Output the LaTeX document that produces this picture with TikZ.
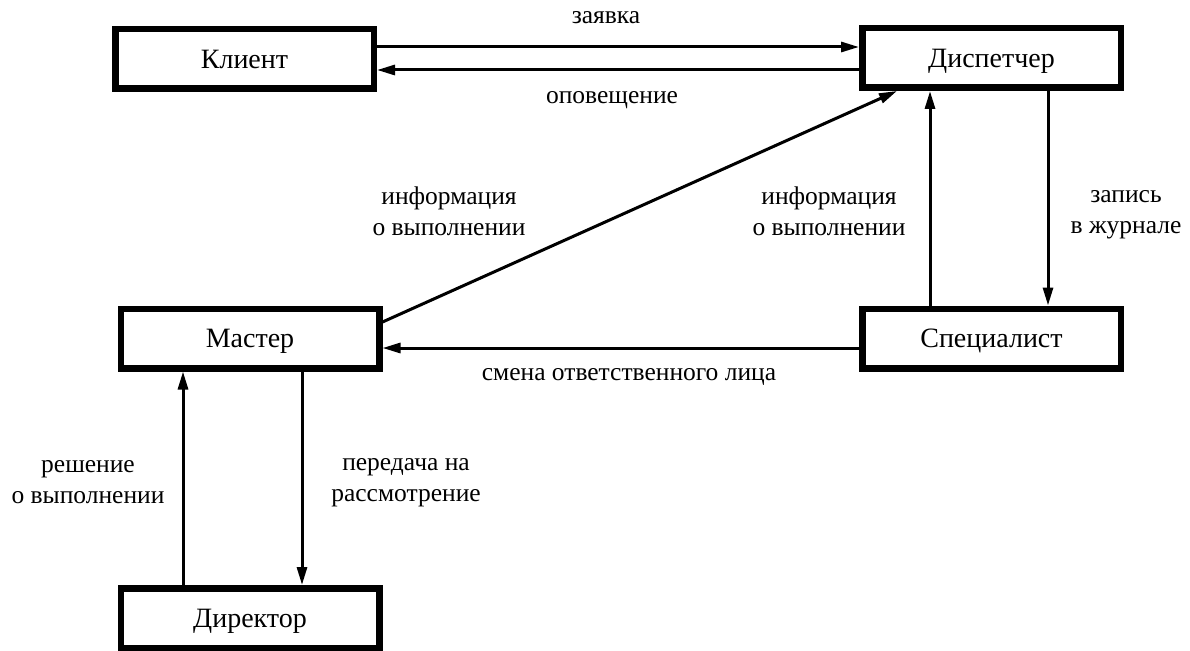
\documentclass[tikz,border=0pt]{standalone}
\usepackage{fontspec}
\setmainfont{Liberation Serif}
\usetikzlibrary{arrows.meta}
\begin{document}
\begin{tikzpicture}[x=1pt,y=-1pt,
  box/.style={draw, line width=6.5pt, minimum width=258.5pt, minimum height=59.5pt, inner sep=0pt, text height=18.5pt, text depth=0pt, font=\fontsize{28}{32}\selectfont},
  conn/.style={line width=3pt, -{Triangle[length=18pt,width=10pt]}},
  lbl/.style={font=\fontsize{25.5}{31}\selectfont, align=center, inner sep=0pt}]
\useasboundingbox (0,0) rectangle (1190,650);
\node[box] (K) at (244.5,59) {Клиент};
\node[box] (D) at (991.5,58) {Диспетчер};
\node[box] (M) at (250,338.5) {Мастер};
\node[box] (S) at (991.5,338.5) {Специалист};
\node[box] (R) at (250,618) {Директор};

\draw[conn] (K.east |- 0,47) -- (D.west |- 0,47);
\draw[conn] (D.west |- 0,70) -- (K.east |- 0,70);
\draw[conn] (M.east |- 0,322) -- (D.south -| 897,0);
\draw[conn] (S.north -| 930,0) -- (D.south -| 930,0);
\draw[conn] (D.south -| 1048,0) -- (S.north -| 1048,0);
\draw[conn] (S.west |- 0,348) -- (M.east |- 0,348);
\draw[conn] (R.north -| 183,0) -- (M.south -| 183,0);
\draw[conn] (M.south -| 302,0) -- (R.north -| 302,0);

\node[lbl] (l1) at (606,18) {заявка};
\node[lbl] (l2) at (612,100) {оповещение};
\node[lbl] (l3) at (449,211.5) {информация\\о выполнении};
\node[lbl] (l4) at (829,211.5) {информация\\о выполнении};
\node[lbl] (l5) at (1126,215) {запись\\в журнале};
\node[lbl] (l6) at (629,377) {смена ответственного лица};
\node[lbl] (l7) at (88,482.5) {решение\\о выполнении};
\node[lbl] (l8) at (406,482.5) {передача на\\рассмотрение};
\end{tikzpicture}
\end{document}
